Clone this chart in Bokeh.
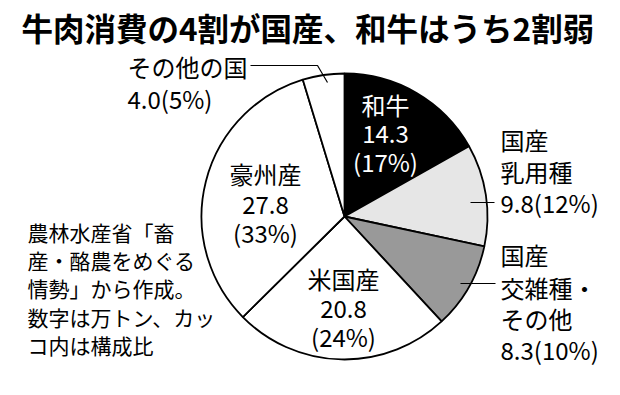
import math
from bokeh.plotting import figure
from bokeh.models import Range1d
from bokeh.core.properties import value
from bokeh.embed import file_html
from bokeh.resources import INLINE

# ---- data ----
categories = ["和牛", "国産乳用種", "国産交雑種・その他", "米国産", "豪州産", "その他の国"]
amounts = [14.3, 9.8, 8.3, 20.8, 27.8, 4.0]
shares = [17, 12, 10, 24, 33, 5]
colors = ["#000000", "#e6e6e6", "#999999", "#ffffff", "#ffffff", "#ffffff"]
title_text = "牛肉消費の4割が国産、和牛はうち2割弱"
note_lines = ["農林水産省「畜", "産・酪農をめぐる", "情勢」から作成。", "数字は万トン、カッ", "コ内は構成比"]

FONT = "Noto Sans CJK JP"
W, H = 620, 395

def Y(img_y):
    return H - img_y - 1

p = figure(width=W, height=H, x_range=Range1d(0, W), y_range=Range1d(0, H),
           output_backend="svg", toolbar_location=None, min_border=0)
p.axis.visible = False
p.grid.visible = False
p.outline_line_color = None
p.background_fill_color = "white"

# pie
cx, cy, r = 344, H - 216, 143
total = sum(amounts)
starts, ends = [], []
acc = 0.0
for a in amounts:
    s = math.pi / 2 - 2 * math.pi * acc / total
    acc += a
    e = math.pi / 2 - 2 * math.pi * acc / total
    starts.append(s)
    ends.append(e)

p.wedge(x=[cx] * len(amounts), y=[cy] * len(amounts), radius=r,
        start_angle=starts, end_angle=ends, direction="clock",
        fill_color=colors, line_color="black", line_width=1.8)

# labels
def fmt_share(i):
    return f"({shares[i]}%)"

label_specs = [
    (["和牛", f"{amounts[0]}", fmt_share(0)], 385, [103, 132, 160], "center", "white"),
    (["国産", "乳用種", f"{amounts[1]}{fmt_share(1)}"], 500, [138, 170, 201], "left", "black"),
    (["国産", "交雑種・", "その他", f"{amounts[2]}{fmt_share(2)}"], 500, [253, 286, 317, 348], "left", "black"),
    (["米国産", f"{amounts[3]}", fmt_share(3)], 343, [277, 307, 335], "center", "black"),
    (["豪州産", f"{amounts[4]}", fmt_share(4)], 265, [172, 203, 231], "center", "black"),
    (["その他の国", f"{amounts[5]}{fmt_share(5)}"], 127, [65, 97], "left", "black"),
]
for lines, x, ys, align, col in label_specs:
    p.text(x=[x] * len(lines), y=[Y(v) for v in ys], text=lines,
           text_font=value(FONT), text_font_size="24px", text_color=col,
           text_align=align, text_baseline="middle")

# leader lines
p.line(x=[470, 494], y=[H - 202] * 2, line_color="black", line_width=1.2)
p.line(x=[460, 495], y=[H - 283] * 2, line_color="black", line_width=1.2)
p.line(x=[250, 317, 327], y=[H - 65, H - 65, H - 82], line_color="black", line_width=1.2)

# title
p.text(x=[21], y=[Y(25)], text=[title_text], text_font=value(FONT), text_font_style="bold",
       text_font_size="31.5px", text_color="black", text_align="left", text_baseline="middle")

# note
note_y = [230, 258, 286, 315, 343]
p.text(x=[27] * len(note_lines), y=[Y(v) for v in note_y], text=note_lines,
       text_font=value(FONT), text_font_size="21px", text_color="black",
       text_align="left", text_baseline="middle")

open("out.html", "w").write(file_html(p, INLINE))
